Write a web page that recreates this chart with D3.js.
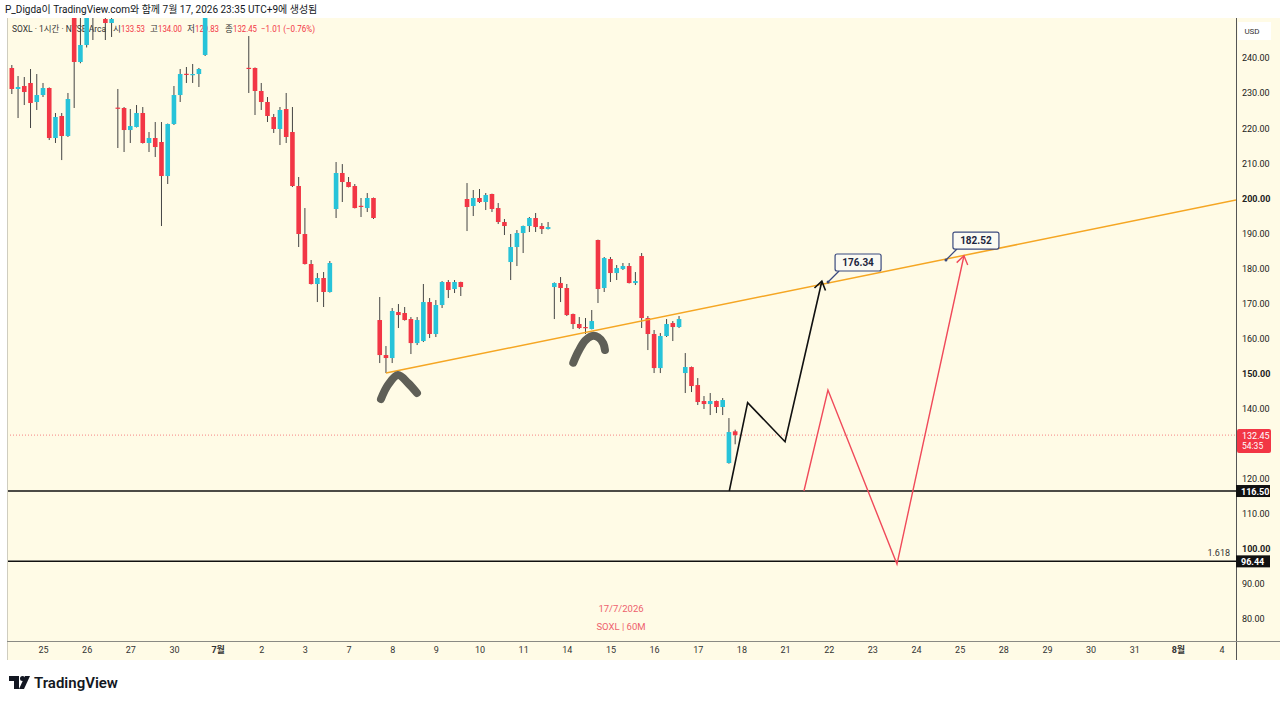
<!DOCTYPE html>
<html>
  <head>
    <script src="https://d3js.org/d3.v7.min.js"></script>
    <meta charset="utf-8">
    <title>SOXL 1h</title>
    <style>
      body { margin: 0; background: #ffffff; }
      svg { display: block; font-family: Roboto, "Noto Sans", "Noto Sans CJK KR", sans-serif; }
    </style>
  </head>
  <body>
    <script>
      // hourly bars, first one is bar index -6 (7 bars per trading day)
      const firstBar = -6;
      const open = [238.6,237.15,231.16,232.01,232.87,227.45,229.44,231.44,217.18,223.46,217.75,256.0,238.86,243.71,255.5,253.0,251.12,249.98,
        225.85,225.74,219.46,220.32,224.31,215.76,217.18,216.04,206.34,221.17,229.44,235.5,235.35,235.43,240.86,254.0,257.0,255.0,258.0,256.0,254.0,
        237.2,237.15,230.59,227.45,223.17,219.75,225.45,218.89,203.49,189.8,181.24,175.54,177.25,173.26,196.93,207.2,204.63,203.49,197.85,197.21,200.07,
        165.27,155.28,154.43,167.55,167.27,165.55,158.7,159.28,170.4,161.28,169.55,176.11,174.11,176.11,199.78,197.79,200.07,198.93,201.21,197.21,193.22,
        181.81,186.09,190.08,192.08,194.36,192.08,191.22,174.68,175.82,174.4,166.98,164.13,163.27,162.7,188.09,174.4,182.67,178.67,179.81,180.67,175.82,
        183.52,165.84,161.28,151.57,160.71,164.41,163.27,150.15,151.86,146.72,142.17,141.31,142.17,140.46,124.48,133.53];
      const high = [239.2,238.0,234.86,234.58,236.86,235.43,232.87,231.6,224.31,224.31,230.02,257.0,253.0,255.0,256.5,255.5,252.5,252.0,
        231.16,226.02,225.45,226.59,226.02,218.89,221.74,221.74,221.3,232.01,236.86,237.43,238.29,237.15,255.0,258.0,260.0,259.0,261.0,258.0,256.0,
        246.27,237.3,232.87,228.87,224.03,226.02,230.02,226.02,206.06,197.21,182.38,178.67,178.96,182.1,210.33,209.75,206.06,204.06,200.07,201.49,200.2,
        171.83,157.85,168.69,169.83,168.98,166.12,166.12,175.54,171.54,170.97,176.39,176.68,176.68,176.2,204.34,202.35,202.63,201.49,201.3,198.64,194.08,
        189.8,190.94,192.2,194.65,195.79,192.93,193.22,176.0,177.53,175.54,167.1,166.12,165.84,168.12,188.2,183.24,183.24,180.95,181.53,181.53,178.96,
        184.38,166.41,162.42,161.56,165.55,164.98,166.41,155.85,152.0,148.72,143.59,144.45,142.3,143.02,137.31,134.0];
      const low = [236.0,229.73,222.88,226.59,220.03,225.17,228.87,216.6,215.76,210.89,217.47,225.74,238.5,243.0,245.13,252.0,245.13,245.99,
        214.33,213.19,215.76,220.2,215.6,213.19,211.77,192.08,204.06,220.9,227.45,232.87,232.87,231.73,240.57,252.5,254.0,253.0,255.0,253.0,252.0,
        230.02,223.74,225.17,221.74,218.61,215.18,215.76,203.2,186.09,181.1,175.4,170.4,168.98,173.1,194.36,198.93,203.1,197.1,194.65,196.07,194.08,
        153.0,150.15,153.0,162.99,165.1,155.57,158.13,158.99,160.13,160.42,168.69,171.54,172.97,172.12,190.65,194.93,198.64,196.64,196.07,192.65,189.51,
        176.68,180.67,184.38,190.37,190.37,189.8,191.1,165.55,170.4,166.41,162.7,162.7,161.28,162.6,170.12,173.26,176.11,176.68,179.53,175.7,175.25,
        162.99,156.71,150.15,150.15,160.42,159.28,162.99,144.45,144.73,141.03,139.89,138.17,138.74,138.17,124.3,129.83];
      const close = [237.6,231.16,231.73,230.3,227.16,229.44,231.44,217.18,223.17,217.75,228.3,238.86,243.71,254.0,253.0,254.5,249.98,251.12,
        225.74,219.46,220.6,224.31,215.76,217.18,214.61,206.34,221.17,229.44,235.43,235.43,235.43,236.86,254.0,257.0,255.0,258.0,256.0,254.0,253.0,
        237.15,230.59,227.45,223.46,219.75,225.17,217.47,203.49,189.8,181.24,175.54,177.25,173.26,181.53,207.2,204.63,203.2,197.21,197.79,200.07,194.36,
        155.28,154.43,167.84,166.69,165.27,158.7,165.27,170.4,161.28,169.55,176.11,173.83,176.11,174.68,197.5,200.07,198.93,200.92,196.93,193.22,192.08,
        186.09,190.08,192.08,194.36,191.79,191.22,191.79,175.82,174.4,166.69,164.13,162.99,162.99,164.98,174.11,182.95,178.67,180.1,180.67,175.82,176.39,
        165.84,161.28,151.57,160.71,164.13,163.27,165.55,151.86,146.44,141.88,141.31,142.17,140.46,142.45,133.32,132.45];

      // axis labels
      const dayLabels = ["25","26","27","30","7월","2","3","7","8","9","10","11","14","15","16","17","18","21","22","23","24","25","28","29","30","31","8월","4"];
      const priceTicks = [80, 90, 100, 110, 120, 130, 140, 150, 160, 170, 180, 190, 200, 210, 220, 230, 240];
      const lastPrice = 132.45;
      const levels = [116.50, 96.44];

      // drawings (bar index, price)
      const trendIdx = [55, 189];
      const trendPrice = [150.15, 198.66];
      const blackIdx = [110.06, 113.0, 119.0, 124.9];
      const blackPrice = [116.5, 141.69, 130.56, 176.34];
      const redIdx = [122.03, 125.88, 136.95, 147.69];
      const redPrice = [116.5, 145.3, 95.67, 183.6];
      const brush1Idx = [54.2, 55.32, 56.93, 58.53, 59.97];
      const brush1Price = [142.73, 146.73, 149.58, 147.3, 144.45];
      const brush2Idx = [85.04, 85.84, 86.92, 87.99, 89.05, 89.85, 90.12];
      const brush2Price = [153.09, 156.23, 159.36, 160.7, 160.33, 158.62, 156.71];
      const callouts = [
        { idx: 125.9, price: 176.11, text: "176.34" },
        { idx: 144.8, price: 182.38, text: "182.52" }
      ];

      const W = 1280, H = 703;
      const pane = { left: 7, right: 1236, top: 18, bottom: 641 };
      const bg = "#fffbe6", red = "#f23645", cyan = "#27c3d9";

      const x = d3.scaleLinear().domain([0, 189]).range([43, 1221.55]);
      const y = d3.scaleLinear().domain([80, 240]).range([619, 58]);

      const svg = d3.select("body").append("svg").attr("width", W).attr("height", H);

      // backgrounds
      svg.append("rect").attr("x", 0).attr("y", 0).attr("width", W).attr("height", H).attr("fill", "#ffffff");
      svg.append("rect").attr("x", pane.left).attr("y", pane.top).attr("width", W - pane.left).attr("height", 660 - pane.top).attr("fill", bg);

      svg.append("defs").append("clipPath").attr("id", "clip")
        .append("rect").attr("x", pane.left).attr("y", pane.top)
        .attr("width", pane.right - pane.left).attr("height", pane.bottom - pane.top);

      // header line
      svg.append("text").attr("x", 5).attr("y", 12.5).attr("font-size", 10).attr("fill", "#131722")
        .text("P_Digda이 TradingView.com와 함께 7월 17, 2026 23:35 UTC+9에 생성됨");

      // legend (under the candles)
      const legend = svg.append("g").attr("font-size", 8.6).attr("fill", "#333");
      legend.append("text").attr("x", 12).attr("y", 32).attr("textLength", 94).attr("lengthAdjust", "spacingAndGlyphs")
        .text("SOXL · 1시간 · NYSE Arca");
      const ohlc = [["시", "133.53", 113], ["고", "134.00", 150], ["저", "129.83", 187], ["종", "132.45", 225]];
      ohlc.forEach(d => {
        legend.append("text").attr("x", d[2]).attr("y", 32).attr("fill", "#333").text(d[0]);
        legend.append("text").attr("x", d[2] + 8).attr("y", 32).attr("fill", red)
          .attr("textLength", 24).attr("lengthAdjust", "spacingAndGlyphs").text(d[1]);
      });
      legend.append("text").attr("x", 261).attr("y", 32).attr("fill", red)
        .attr("textLength", 54).attr("lengthAdjust", "spacingAndGlyphs").text("−1.01 (−0.76%)");

      // watermark
      const wm = svg.append("g").attr("font-size", 9.5).attr("fill", "#ee5f6d").attr("text-anchor", "middle");
      wm.append("text").attr("x", 621).attr("y", 612).text("17/7/2026");
      wm.append("text").attr("x", 621).attr("y", 630).text("SOXL | 60M");

      const plot = svg.append("g").attr("clip-path", "url(#clip)");

      // last price dotted line
      plot.append("line").attr("x1", pane.left).attr("x2", pane.right)
        .attr("y1", y(lastPrice)).attr("y2", y(lastPrice))
        .attr("stroke", red).attr("stroke-opacity", 0.6).attr("stroke-dasharray", "1,2");

      // horizontal levels
      plot.selectAll(".level").data(levels).enter().append("line")
        .attr("x1", pane.left).attr("x2", pane.right)
        .attr("y1", d => y(d)).attr("y2", d => y(d))
        .attr("stroke", "#111").attr("stroke-width", 1.5);

      // candles
      const bars = open.map((o, k) => ({ i: firstBar + k, o: o, h: high[k], l: low[k], c: close[k] }));
      const bw = 4.6;
      const cg = plot.append("g");
      cg.selectAll(".wick").data(bars).enter().append("line")
        .attr("x1", d => x(d.i)).attr("x2", d => x(d.i))
        .attr("y1", d => y(d.h)).attr("y2", d => y(d.l))
        .attr("stroke", "#444").attr("stroke-width", 1);
      cg.selectAll(".body").data(bars).enter().append("rect")
        .attr("x", d => x(d.i) - bw / 2).attr("width", bw)
        .attr("y", d => y(Math.max(d.o, d.c)))
        .attr("height", d => Math.max(1.2, Math.abs(y(d.o) - y(d.c))))
        .attr("fill", d => d.c < d.o ? red : cyan);

      // trend line, extended to the right edge
      const slope = (trendPrice[1] - trendPrice[0]) / (trendIdx[1] - trendIdx[0]);
      const endIdx = x.invert(pane.right);
      plot.append("line")
        .attr("x1", x(trendIdx[0])).attr("y1", y(trendPrice[0]))
        .attr("x2", x(endIdx)).attr("y2", y(trendPrice[0] + slope * (endIdx - trendIdx[0])))
        .attr("stroke", "#f5a623").attr("stroke-width", 1.5);

      // hand drawn marks
      const curve = d3.line().x(d => x(d[0])).y(d => y(d[1])).curve(d3.curveCatmullRom);
      [[brush1Idx, brush1Price], [brush2Idx, brush2Price]].forEach(b => {
        plot.append("path").attr("d", curve(d3.zip(b[0], b[1])))
          .attr("fill", "none").attr("stroke", "#5f5f57").attr("stroke-width", 8)
          .attr("stroke-linecap", "round").attr("stroke-linejoin", "round");
      });

      // projected paths with arrow heads
      const straight = d3.line().x(d => x(d[0])).y(d => y(d[1]));
      function arrowPath(idx, price, color, width) {
        const pts = d3.zip(idx, price);
        plot.append("path").attr("d", straight(pts)).attr("fill", "none")
          .attr("stroke", color).attr("stroke-width", width).attr("stroke-linejoin", "miter");
        const n = pts.length;
        const tx = x(pts[n - 1][0]), ty = y(pts[n - 1][1]);
        const px = x(pts[n - 2][0]), py = y(pts[n - 2][1]);
        const a = Math.atan2(py - ty, px - tx);
        const len = 10, spread = 0.6;
        const head = [[tx + len * Math.cos(a - spread), ty + len * Math.sin(a - spread)], [tx, ty],
                      [tx + len * Math.cos(a + spread), ty + len * Math.sin(a + spread)]];
        plot.append("path").attr("d", d3.line()(head)).attr("fill", "none")
          .attr("stroke", color).attr("stroke-width", width);
      }
      arrowPath(blackIdx, blackPrice, "#111", 1.6);
      arrowPath(redIdx, redPrice, "#f04a5a", 1.4);

      // price callouts
      callouts.forEach(d => {
        const ax = x(d.idx), ay = y(d.price);
        const g = svg.append("g");
        g.append("line").attr("x1", ax).attr("y1", ay).attr("x2", ax + 11).attr("y2", ay - 11)
          .attr("stroke", "#3b4a7e").attr("stroke-width", 1.2);
        g.append("circle").attr("cx", ax).attr("cy", ay).attr("r", 1.5).attr("fill", "#3b4a7e");
        g.append("rect").attr("x", ax + 7).attr("y", ay - 28).attr("width", 46).attr("height", 17).attr("rx", 2)
          .attr("fill", "#fbfaf2").attr("stroke", "#3b4a7e").attr("stroke-width", 1.2);
        g.append("text").attr("x", ax + 30).attr("y", ay - 16).attr("text-anchor", "middle")
          .attr("font-size", 10).attr("font-weight", 700).attr("fill", "#1e2640").text(d.text);
      });

      // "1.618" fib text
      svg.append("text").attr("x", 1230).attr("y", 556).attr("text-anchor", "end")
        .attr("font-size", 9).attr("fill", "#333").text("1.618");

      // pane borders
      svg.append("line").attr("x1", pane.left + 0.5).attr("x2", pane.left + 0.5).attr("y1", pane.top).attr("y2", 660)
        .attr("stroke", "#cfcdbf");
      svg.append("line").attr("x1", pane.right + 0.5).attr("x2", pane.right + 0.5).attr("y1", pane.top).attr("y2", 660)
        .attr("stroke", "#555");
      svg.append("line").attr("x1", pane.left).attr("x2", W).attr("y1", pane.bottom + 0.5).attr("y2", pane.bottom + 0.5)
        .attr("stroke", "#8a8a84");

      // price axis
      const yAxis = d3.axisRight(y).tickValues(priceTicks).tickSize(0).tickPadding(6)
        .tickFormat(d3.format(".2f"));
      const ya = svg.append("g").attr("transform", `translate(${pane.right},0)`).call(yAxis);
      ya.select(".domain").remove();
      ya.selectAll("text").attr("font-size", 9).attr("fill", "#222")
        .attr("font-weight", d => (d === 200 || d === 150 || d === 100) ? 700 : 400)
        .style("font-family", "Roboto, sans-serif");
      ya.selectAll(".tick").filter(d => d === 130).remove();

      // USD box
      svg.append("rect").attr("x", 1238).attr("y", 22).attr("width", 33).attr("height", 18).attr("fill", "#ffffff");
      svg.append("text").attr("x", 1252).attr("y", 34).attr("text-anchor", "middle")
        .attr("font-size", 8).attr("fill", "#333").text("USD");

      // price tags on the axis
      svg.append("rect").attr("x", 1237).attr("y", y(lastPrice) - 6).attr("width", 34).attr("height", 24)
        .attr("rx", 2).attr("fill", red);
      svg.append("text").attr("x", 1242).attr("y", y(lastPrice) + 4).attr("font-size", 9).attr("fill", "#fff").text("132.45");
      svg.append("text").attr("x", 1242).attr("y", y(lastPrice) + 14).attr("font-size", 8.5).attr("fill", "#fff").text("54:35");
      levels.forEach(v => {
        svg.append("rect").attr("x", 1236).attr("y", y(v) - 6).attr("width", 34).attr("height", 12).attr("fill", "#111");
        svg.append("text").attr("x", 1241).attr("y", y(v) + 3.5).attr("font-size", 9).attr("font-weight", 700)
          .attr("fill", "#fff").text(d3.format(".2f")(v));
      });

      // time axis
      const xAxis = d3.axisBottom(x).tickValues(dayLabels.map((d, k) => k * 7)).tickSize(0).tickPadding(6)
        .tickFormat((d, k) => dayLabels[k]);
      const xa = svg.append("g").attr("transform", `translate(0,${pane.bottom})`).call(xAxis);
      xa.select(".domain").remove();
      xa.selectAll("text").attr("font-size", 9).attr("fill", "#333")
        .attr("font-weight", (d, k) => dayLabels[k].includes("월") ? 700 : 400)
        .style("font-family", "Roboto, 'Noto Sans CJK KR', sans-serif");

      // TradingView logo
      const logo = svg.append("g").attr("fill", "#131722");
      logo.append("path").attr("d", "M9 676 h10 v13 h-5 v-8 h-5 z");
      logo.append("circle").attr("cx", 22.5).attr("cy", 678.5).attr("r", 2.5);
      logo.append("path").attr("d", "M25 676 h5 l-6 13 h-5 z");
      svg.append("text").attr("x", 34).attr("y", 688).attr("font-size", 15).attr("font-weight", 600)
        .attr("fill", "#131722").text("TradingView");
    </script>
  </body>
</html>
